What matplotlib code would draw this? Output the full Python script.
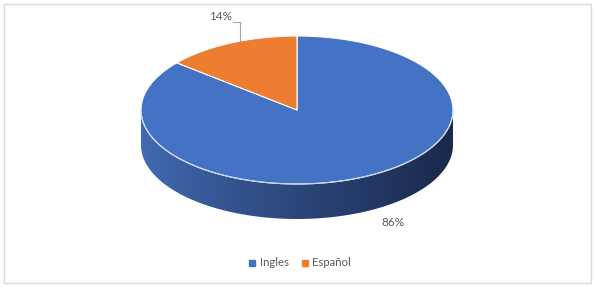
import numpy as np
import matplotlib
matplotlib.use("Agg")
import matplotlib.pyplot as plt
from matplotlib.patches import Polygon, Rectangle
from matplotlib.lines import Line2D

# ---- data ----
categories = ["Ingles", "Español"]
values = [86, 14]
labels = ["86%", "14%"]
colors = ["#4472C4", "#ED7D31"]

# ---- layout (pixel space) ----
W, H = 595, 288
CX, CY = 297, 110      # centre of top face
RX, RY = 156, 74       # ellipse radii
DEPTH = 35             # thickness of the pie

plt.rcParams['font.family'] = ['Lato', 'DejaVu Sans']
fig = plt.figure(figsize=(W / 100, H / 100), dpi=100)
ax = fig.add_axes([0, 0, 1, 1])
ax.set_xlim(0, W)
ax.set_ylim(H, 0)
ax.axis('off')

# chart border
fig.patches.append(Rectangle((4 / W, 5 / H), 587 / W, 279 / H, transform=fig.transFigure,
                             fill=False, edgecolor='#D9D9D9', lw=1.0))

def pt(t, dy=0.0):
    """t: angle in degrees, clockwise from 12 o'clock."""
    r = np.radians(t)
    return CX + RX * np.sin(r), CY - RY * np.cos(r) + dy

total = float(sum(values))
angles = np.cumsum([0] + [v / total * 360 for v in values])

# ---- side (front) with horizontal gradient, clipped to the side outline ----
c_left = np.array([0x42, 0x6B, 0xB3]) / 255
c_right = np.array([0x1A, 0x29, 0x4C]) / 255
f = np.linspace(0, 1, 400) ** 0.85
grad = (c_left[None, :] * (1 - f[:, None]) + c_right[None, :] * f[:, None])[None, :, :]
ts = np.linspace(90, 270, 300)
xt, yt = pt(ts)
xb, yb = pt(ts[::-1], DEPTH)
side = Polygon(list(zip(xt, yt)) + list(zip(xb, yb)), closed=True,
               facecolor='none', edgecolor='none')
ax.add_patch(side)
im = ax.imshow(grad, extent=(CX - RX, CX + RX, CY + RY + DEPTH + 2, CY - 2),
               aspect='auto', interpolation='bilinear', zorder=1)
im.set_clip_path(side)
ax.set_xlim(0, W)
ax.set_ylim(H, 0)

# ---- top face wedges ----
for i, v in enumerate(values):
    a0, a1 = angles[i], angles[i + 1]
    tt = np.linspace(a0, a1, 200)
    xs, ys = pt(tt)
    verts = [(CX, CY)] + list(zip(xs, ys))
    ax.add_patch(Polygon(verts, closed=True, facecolor=colors[i], edgecolor='white', lw=0.8,
                         joinstyle='round', zorder=2))

# light rim along front edge of top face
tt = np.linspace(90, 270, 200)
xs, ys = pt(tt)
ax.plot(xs, ys, color='#C9D3E8', lw=0.8, zorder=3)

# ---- data labels ----
txt_col = '#595959'
ax.text(393, 222, labels[0], ha='center', va='center', fontsize=8.5, color=txt_col)
ax.text(221, 17, labels[1], ha='center', va='center', fontsize=8.5, color=txt_col)
rim_x = 240
rim_y = CY - RY * np.sqrt(1 - ((rim_x - CX) / RX) ** 2)
ax.plot([233, rim_x, rim_x], [22, 22, rim_y], color='#A6A6A6', lw=0.8)

# ---- legend ----
handles = [Line2D([], [], marker='s', linestyle='none', markersize=4.5,
                  markerfacecolor=c, markeredgecolor=c) for c in colors]
fig.legend(handles, categories, loc='center', bbox_to_anchor=(300 / W, 1 - 263 / H),
           ncol=2, frameon=False, fontsize=8.2, labelcolor=txt_col,
           handlelength=0.6, handletextpad=0.35, columnspacing=1.1)

fig.savefig('out.png', dpi=100)
